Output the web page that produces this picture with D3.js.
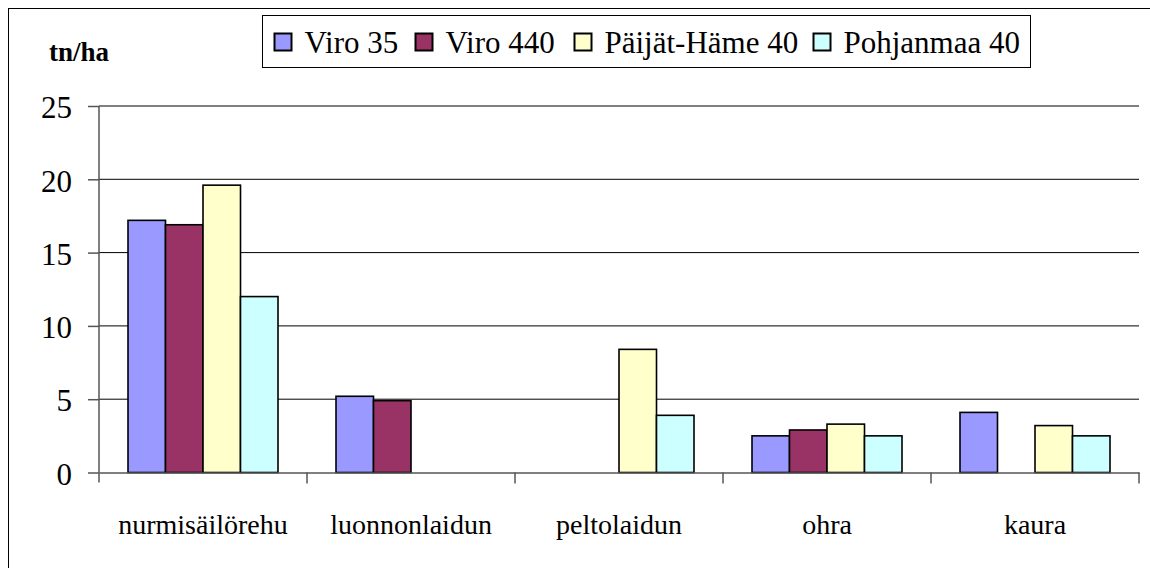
<!DOCTYPE html>
<html>
<head>
<meta charset="utf-8">
<script src="https://cdn.jsdelivr.net/npm/d3@7"></script>
</head>
<body style="margin:0;background:#fff">
<div id="chart"></div>
<script>
// data
let categories = ["nurmisäilörehu", "luonnonlaidun", "peltolaidun", "ohra", "kaura"];
let seriesNames = ["Viro 35", "Viro 440", "Päijät-Häme 40", "Pohjanmaa 40"];
let viro35 = [17.2, 5.2, null, 2.5, 4.1];
let viro440 = [16.9, 4.9, null, 2.9, null];
let paijatHame40 = [19.6, null, 8.4, 3.3, 3.2];
let pohjanmaa40 = [12.0, null, 3.9, 2.5, 2.5];
let yTicks = [0, 5, 10, 15, 20, 25];
let colors = ["#9999ff", "#993366", "#ffffcc", "#ccffff"];

let seriesValues = [viro35, viro440, paijatHame40, pohjanmaa40];
let serif = "'Liberation Serif'";

let width = 1150, height = 568;
let margin = { top: 106, left: 99, right: 11, bottom: 95.5 };
let innerW = width - margin.left - margin.right;
let innerH = height - margin.top - margin.bottom;

let svg = d3.select("#chart").append("svg")
    .attr("width", width)
    .attr("height", height)
    .style("display", "block");

// outer frame
svg.append("rect")
    .attr("x", 8.5).attr("y", 8.5)
    .attr("width", width + 10).attr("height", height + 10)
    .attr("fill", "none").attr("stroke", "#000").attr("stroke-width", 1);

let g = svg.append("g")
    .attr("transform", "translate(" + margin.left + "," + margin.top + ")");

let x0 = d3.scaleBand().domain(categories).range([0, innerW]).paddingInner(0).paddingOuter(0);
let x1 = d3.scaleBand().domain(seriesNames).range([29, x0.bandwidth() - 29]);
let y = d3.scaleLinear().domain([0, 25]).range([innerH, 0]);

// grid lines
g.selectAll(".grid")
    .data(yTicks.filter(d => d > 0))
    .enter().append("line")
    .attr("x1", 0).attr("x2", innerW)
    .attr("y1", d => y(d)).attr("y2", d => y(d))
    .attr("stroke", "#000").attr("stroke-width", 1);

// bars
let rows = [];
categories.forEach((c, i) => {
    seriesNames.forEach((s, j) => {
        if (seriesValues[j][i] != null) rows.push({ cat: c, series: s, value: seriesValues[j][i], j: j });
    });
});

g.selectAll(".bar")
    .data(rows)
    .enter().append("rect")
    .attr("x", d => x0(d.cat) + x1(d.series))
    .attr("y", d => y(d.value))
    .attr("width", x1.bandwidth())
    .attr("height", d => innerH - y(d.value))
    .attr("fill", d => colors[d.j])
    .attr("stroke", "#000")
    .attr("stroke-width", 1.6);

// y axis
let yAxis = d3.axisLeft(y).tickValues(yTicks).tickSize(11).tickPadding(16);
let yG = g.append("g").call(yAxis);
yG.select(".domain").attr("stroke", "#555").attr("stroke-width", 1.5).attr("d", "M0,0V" + (innerH + 10));
yG.selectAll(".tick line").attr("stroke", "#555").attr("stroke-width", 1.5);
yG.selectAll(".tick text")
    .style("font-family", serif)
    .attr("dy", "0.38em")
    .attr("font-size", 31).attr("fill", "#000");

// x axis
let xAxis = d3.axisBottom(x0).tickSize(0).tickPadding(0);
let xG = g.append("g").attr("transform", "translate(0," + innerH + ")").call(xAxis);
xG.select(".domain").attr("stroke", "#555").attr("stroke-width", 1.5);
xG.selectAll(".tick text")
    .style("font-family", serif)
    .attr("y", 61.5).attr("dy", 0)
    .attr("font-size", 28).attr("fill", "#000");
// category separators
xG.selectAll(".sep")
    .data(categories.slice(1).concat(["end"]))
    .enter().append("line")
    .attr("x1", (d, i) => x0.step() * (i + 1)).attr("x2", (d, i) => x0.step() * (i + 1))
    .attr("y1", 0).attr("y2", 11)
    .attr("stroke", "#555").attr("stroke-width", 1.5);

// unit label
svg.append("text")
    .attr("x", 49).attr("y", 61)
    .style("font-family", serif)
    .attr("font-size", 27).attr("font-weight", "bold")
    .text("tn/ha");

// legend
let legend = svg.append("g").attr("transform", "translate(262.5,15.5)");
legend.append("rect")
    .attr("width", 768).attr("height", 52)
    .attr("fill", "#fff").attr("stroke", "#000").attr("stroke-width", 1);

let legendX = [11, 152, 311, 550];
let items = legend.selectAll(".item")
    .data(seriesNames)
    .enter().append("g")
    .attr("transform", (d, i) => "translate(" + legendX[i] + ",0)");
items.append("rect")
    .attr("x", 1).attr("y", 18).attr("width", 17).attr("height", 17)
    .attr("fill", (d, i) => colors[i]).attr("stroke", "#000").attr("stroke-width", 2);
items.append("text")
    .attr("x", 31).attr("y", 37)
    .style("font-family", serif)
    .attr("font-size", 31)
    .text(d => d);
</script>
</body>
</html>
